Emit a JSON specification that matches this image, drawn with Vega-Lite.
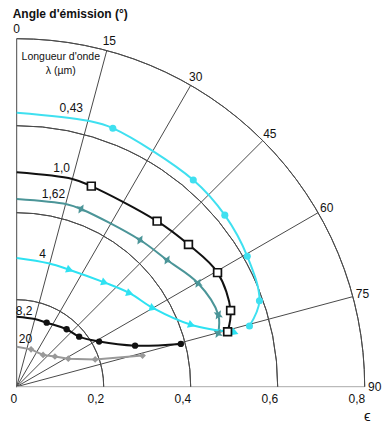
{
  "$schema": "https://vega.github.io/schema/vega-lite/v6.json",
  "width": 348,
  "height": 348,
  "autosize": {"type": "none"},
  "padding": {"left": 16.7, "top": 38.7, "right": 17.3, "bottom": 38.3},
  "background": "white",
  "config": {"view": {"stroke": null}, "font": "Liberation Sans", "axis": {"grid": false}},
  "datasets": {
    "curves": [
      {"lambda": "0,43", "angle": 0, "eps": 0.630},
      {"lambda": "0,43", "angle": 15, "eps": 0.633},
      {"lambda": "0,43", "angle": 20.4, "eps": 0.634},
      {"lambda": "0,43", "angle": 40.5, "eps": 0.625},
      {"lambda": "0,43", "angle": 50.5, "eps": 0.620},
      {"lambda": "0,43", "angle": 60.5, "eps": 0.609},
      {"lambda": "0,43", "angle": 70.5, "eps": 0.592},
      {"lambda": "0,43", "angle": 75.4, "eps": 0.553},
      {"lambda": "1,0", "angle": 0, "eps": 0.493},
      {"lambda": "1,0", "angle": 15, "eps": 0.4945},
      {"lambda": "1,0", "angle": 20.4, "eps": 0.492},
      {"lambda": "1,0", "angle": 40.3, "eps": 0.499},
      {"lambda": "1,0", "angle": 50.4, "eps": 0.5125},
      {"lambda": "1,0", "angle": 60.4, "eps": 0.531},
      {"lambda": "1,0", "angle": 70.4, "eps": 0.522},
      {"lambda": "1,0", "angle": 75.4, "eps": 0.501},
      {"lambda": "1,62", "angle": 0, "eps": 0.4315},
      {"lambda": "1,62", "angle": 15.3, "eps": 0.435},
      {"lambda": "1,62", "angle": 19.9, "eps": 0.4345},
      {"lambda": "1,62", "angle": 40.05, "eps": 0.4405},
      {"lambda": "1,62", "angle": 49.9, "eps": 0.452},
      {"lambda": "1,62", "angle": 60.3, "eps": 0.480},
      {"lambda": "1,62", "angle": 70.4, "eps": 0.492},
      {"lambda": "1,62", "angle": 75.2, "eps": 0.479},
      {"lambda": "4", "angle": 0, "eps": 0.296},
      {"lambda": "4", "angle": 14.4, "eps": 0.293},
      {"lambda": "4", "angle": 24.5, "eps": 0.295},
      {"lambda": "4", "angle": 40.3, "eps": 0.3136},
      {"lambda": "4", "angle": 50.5, "eps": 0.3375},
      {"lambda": "4", "angle": 60.1, "eps": 0.362},
      {"lambda": "4", "angle": 70.6, "eps": 0.4266},
      {"lambda": "4", "angle": 76.1, "eps": 0.517},
      {"lambda": "8,2", "angle": 0, "eps": 0.161},
      {"lambda": "8,2", "angle": 15, "eps": 0.161},
      {"lambda": "8,2", "angle": 25.1, "eps": 0.1625},
      {"lambda": "8,2", "angle": 41, "eps": 0.175},
      {"lambda": "8,2", "angle": 51.3, "eps": 0.184},
      {"lambda": "8,2", "angle": 61.3, "eps": 0.216},
      {"lambda": "8,2", "angle": 70.9, "eps": 0.288},
      {"lambda": "8,2", "angle": 75.4, "eps": 0.390},
      {"lambda": "20", "angle": 0, "eps": 0.092},
      {"lambda": "20", "angle": 21, "eps": 0.092},
      {"lambda": "20", "angle": 39.7, "eps": 0.095},
      {"lambda": "20", "angle": 51.7, "eps": 0.112},
      {"lambda": "20", "angle": 61.5, "eps": 0.135},
      {"lambda": "20", "angle": 70.8, "eps": 0.191},
      {"lambda": "20", "angle": 76.1, "eps": 0.298}
    ],
    "rings": [{"eps": 0.2}, {"eps": 0.4}, {"eps": 0.6}, {"eps": 0.8}],
    "spokes": [
      {"angle": 0}, {"angle": 15}, {"angle": 30}, {"angle": 45},
      {"angle": 60}, {"angle": 75}, {"angle": 90}
    ],
    "serieslabels": [
      {"label": "0,43", "x": 0.1255, "y": 0.640},
      {"label": "1,0", "x": 0.1034, "y": 0.502},
      {"label": "1,62", "x": 0.0846, "y": 0.444},
      {"label": "4", "x": 0.0598, "y": 0.3057},
      {"label": "8,2", "x": 0.0172, "y": 0.1745},
      {"label": "20", "x": 0.0202, "y": 0.109}
    ],
    "header": [
      {"label": "Longueur d'onde", "x": 0.1014, "y": 0.7586},
      {"label": "λ (µm)", "x": 0.1014, "y": 0.7264}
    ]
  },
  "layer": [
    {
      "data": {"name": "spokes"},
      "transform": [
        {"calculate": "0.8*sin(datum.angle*PI/180)", "as": "xe"},
        {"calculate": "0.8*cos(datum.angle*PI/180)", "as": "ye"}
      ],
      "mark": {"type": "rule", "strokeWidth": 1},
      "encoding": {
        "x": {"field": "xe", "type": "quantitative", "scale": {"domain": [0, 0.8], "nice": false},
          "axis": {"values": [0, 0.2, 0.4, 0.6, 0.8], "labelExpr": "datum.value == 0 ? '0' : replace(format(datum.value, '.1f'), '.', ',')", "domain": false, "ticks": false, "labelAlign": "right", "labelDx": 1.5, "labelPadding": 7, "labelFontSize": 12, "labelColor": "#111", "labelFont": "Liberation Sans", "title": null, "labelFlush": false, "labelOverlap": false}},
        "y": {"field": "ye", "type": "quantitative", "scale": {"domain": [0, 0.8], "nice": false}, "axis": null},
        "x2": {"datum": 0},
        "y2": {"datum": 0},
        "color": {"condition": {"test": "datum.angle == 90", "value": "#aaaaaa"}, "value": "#4a4a4a"}
      }
    },
    {
      "data": {"name": "rings"},
      "mark": {"type": "arc", "theta": 0, "theta2": 1.5708, "filled": false, "fill": null, "stroke": "#4a4a4a", "strokeWidth": 1},
      "encoding": {
        "x": {"datum": 0, "type": "quantitative", "scale": {"domain": [0, 0.8], "nice": false}},
        "y": {"datum": 0, "type": "quantitative", "scale": {"domain": [0, 0.8], "nice": false}},
        "radius": {"field": "eps", "type": "quantitative", "scale": {"type": "linear", "domain": [0, 0.8], "range": [0, 348], "zero": true}},
        "radius2": {"field": "eps"}
      }
    },
    {
      "data": {"name": "spokes"},
      "transform": [
        {"calculate": "0.823*sin(datum.angle*PI/180)", "as": "lx"},
        {"calculate": "0.823*cos(datum.angle*PI/180)", "as": "ly"}
      ],
      "mark": {"type": "text", "fontSize": 12, "color": "#111", "align": "center", "baseline": "middle"},
      "encoding": {
        "x": {"field": "lx", "type": "quantitative", "scale": {"domain": [0, 0.8], "nice": false}},
        "y": {"field": "ly", "type": "quantitative", "scale": {"domain": [0, 0.8], "nice": false}},
        "text": {"field": "angle", "type": "nominal"}
      }
    },
    {
      "data": {"name": "curves"},
      "transform": [
        {"filter": "datum.lambda != '20'"},
        {"calculate": "datum.eps*sin(datum.angle*PI/180)", "as": "x"},
        {"calculate": "datum.eps*cos(datum.angle*PI/180)", "as": "y"}
      ],
      "mark": {"type": "line", "interpolate": "catmull-rom", "strokeWidth": 2},
      "encoding": {
        "x": {"field": "x", "type": "quantitative", "scale": {"domain": [0, 0.8], "nice": false}},
        "y": {"field": "y", "type": "quantitative", "scale": {"domain": [0, 0.8], "nice": false}},
        "order": {"field": "angle", "type": "quantitative"},
        "color": {"field": "lambda", "type": "nominal", "legend": null,
          "scale": {"domain": ["0,43", "1,0", "1,62", "4", "8,2", "20"], "range": ["#3fe0f0", "#111111", "#4b9598", "#2ee2f2", "#111111", "#999999"]}}
      }
    },
    {
      "data": {"name": "curves"},
      "transform": [
        {"filter": "datum.lambda == '20'"},
        {"calculate": "datum.eps*sin(datum.angle*PI/180)", "as": "x"},
        {"calculate": "datum.eps*cos(datum.angle*PI/180)", "as": "y"}
      ],
      "mark": {"type": "line", "interpolate": "linear", "strokeWidth": 2, "color": "#999999"},
      "encoding": {
        "x": {"field": "x", "type": "quantitative", "scale": {"domain": [0, 0.8], "nice": false}},
        "y": {"field": "y", "type": "quantitative", "scale": {"domain": [0, 0.8], "nice": false}},
        "order": {"field": "angle", "type": "quantitative"}
      }
    },
    {
      "data": {"name": "curves"},
      "transform": [
        {"filter": "datum.lambda == '20' && datum.angle > 16"},
        {"calculate": "datum.eps*sin(datum.angle*PI/180)", "as": "x"},
        {"calculate": "datum.eps*cos(datum.angle*PI/180)", "as": "y"}
      ],
      "mark": {"type": "point", "shape": "diamond", "filled": true, "size": 45, "color": "#999999", "opacity": 1},
      "encoding": {
        "x": {"field": "x", "type": "quantitative", "scale": {"domain": [0, 0.8], "nice": false}},
        "y": {"field": "y", "type": "quantitative", "scale": {"domain": [0, 0.8], "nice": false}}
      }
    },
    {
      "data": {"name": "curves"},
      "transform": [
        {"filter": "datum.lambda == '8,2' && datum.angle > 16"},
        {"calculate": "datum.eps*sin(datum.angle*PI/180)", "as": "x"},
        {"calculate": "datum.eps*cos(datum.angle*PI/180)", "as": "y"}
      ],
      "mark": {"type": "point", "shape": "circle", "filled": true, "size": 40, "color": "#111111", "opacity": 1},
      "encoding": {
        "x": {"field": "x", "type": "quantitative", "scale": {"domain": [0, 0.8], "nice": false}},
        "y": {"field": "y", "type": "quantitative", "scale": {"domain": [0, 0.8], "nice": false}}
      }
    },
    {
      "data": {"name": "curves"},
      "transform": [
        {"filter": "datum.lambda == '4' && datum.angle > 16"},
        {"calculate": "datum.eps*sin(datum.angle*PI/180)", "as": "x"},
        {"calculate": "datum.eps*cos(datum.angle*PI/180)", "as": "y"}
      ],
      "mark": {"type": "point", "shape": "triangle-right", "filled": true, "size": 70, "angle": 20, "color": "#2ee2f2", "opacity": 1},
      "encoding": {
        "x": {"field": "x", "type": "quantitative", "scale": {"domain": [0, 0.8], "nice": false}},
        "y": {"field": "y", "type": "quantitative", "scale": {"domain": [0, 0.8], "nice": false}}
      }
    },
    {
      "data": {"name": "curves"},
      "transform": [
        {"filter": "datum.lambda == '1,62' && datum.angle > 16"},
        {"calculate": "datum.eps*sin(datum.angle*PI/180)", "as": "x"},
        {"calculate": "datum.eps*cos(datum.angle*PI/180)", "as": "y"}
      ],
      "mark": {"type": "point", "shape": "M0,-1L0.3,-0.3L1,0L0.3,0.3L0,1L-0.3,0.3L-1,0L-0.3,-0.3Z", "filled": true, "size": 110, "angle": 30, "color": "#4b9598", "opacity": 1},
      "encoding": {
        "x": {"field": "x", "type": "quantitative", "scale": {"domain": [0, 0.8], "nice": false}},
        "y": {"field": "y", "type": "quantitative", "scale": {"domain": [0, 0.8], "nice": false}}
      }
    },
    {
      "data": {"name": "curves"},
      "transform": [
        {"filter": "datum.lambda == '1,0' && datum.angle > 16"},
        {"calculate": "datum.eps*sin(datum.angle*PI/180)", "as": "x"},
        {"calculate": "datum.eps*cos(datum.angle*PI/180)", "as": "y"}
      ],
      "mark": {"type": "point", "shape": "square", "filled": false, "size": 60, "fill": "white", "fillOpacity": 1, "stroke": "#111111", "strokeWidth": 1.7, "opacity": 1},
      "encoding": {
        "x": {"field": "x", "type": "quantitative", "scale": {"domain": [0, 0.8], "nice": false}},
        "y": {"field": "y", "type": "quantitative", "scale": {"domain": [0, 0.8], "nice": false}}
      }
    },
    {
      "data": {"name": "curves"},
      "transform": [
        {"filter": "datum.lambda == '0,43' && datum.angle > 16"},
        {"calculate": "datum.eps*sin(datum.angle*PI/180)", "as": "x"},
        {"calculate": "datum.eps*cos(datum.angle*PI/180)", "as": "y"}
      ],
      "mark": {"type": "point", "shape": "circle", "filled": true, "size": 50, "color": "#3fe0f0", "opacity": 1},
      "encoding": {
        "x": {"field": "x", "type": "quantitative", "scale": {"domain": [0, 0.8], "nice": false}},
        "y": {"field": "y", "type": "quantitative", "scale": {"domain": [0, 0.8], "nice": false}}
      }
    },
    {
      "data": {"name": "serieslabels"},
      "mark": {"type": "text", "fontSize": 12, "color": "#111", "align": "center", "baseline": "middle"},
      "encoding": {
        "x": {"field": "x", "type": "quantitative", "scale": {"domain": [0, 0.8], "nice": false}},
        "y": {"field": "y", "type": "quantitative", "scale": {"domain": [0, 0.8], "nice": false}},
        "text": {"field": "label", "type": "nominal"}
      }
    },
    {
      "data": {"name": "header"},
      "mark": {"type": "text", "fontSize": 10.5, "color": "#111", "align": "center", "baseline": "middle"},
      "encoding": {
        "x": {"field": "x", "type": "quantitative", "scale": {"domain": [0, 0.8], "nice": false}},
        "y": {"field": "y", "type": "quantitative", "scale": {"domain": [0, 0.8], "nice": false}},
        "text": {"field": "label", "type": "nominal"}
      }
    },
    {
      "data": {"values": [{"label": "Angle d'émission (°)"}]},
      "mark": {"type": "text", "fontSize": 12, "fontWeight": "bold", "color": "#111", "align": "left", "baseline": "alphabetic"},
      "encoding": {
        "x": {"datum": -0.0092, "type": "quantitative", "scale": {"domain": [0, 0.8], "nice": false}},
        "y": {"datum": 0.847, "type": "quantitative", "scale": {"domain": [0, 0.8], "nice": false}},
        "text": {"field": "label", "type": "nominal"}
      }
    },
    {
      "data": {"values": [{"label": "ϵ"}]},
      "mark": {"type": "text", "fontSize": 15, "color": "#111", "align": "center", "baseline": "middle"},
      "encoding": {
        "x": {"datum": 0.806, "type": "quantitative", "scale": {"domain": [0, 0.8], "nice": false}},
        "y": {"datum": -0.067, "type": "quantitative", "scale": {"domain": [0, 0.8], "nice": false}},
        "text": {"field": "label", "type": "nominal"}
      }
    }
  ]
}
